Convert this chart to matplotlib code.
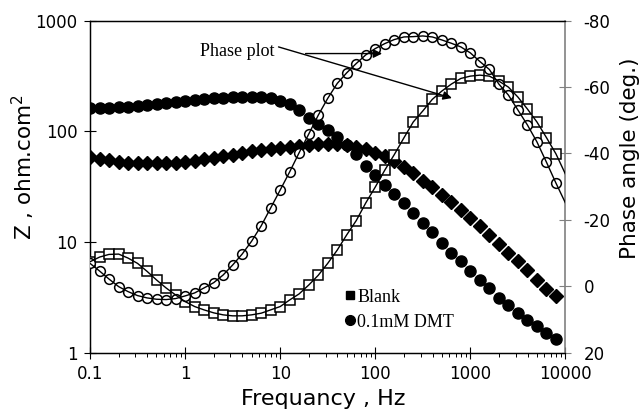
import matplotlib
matplotlib.use("Agg")
import matplotlib.pyplot as plt
from matplotlib.lines import Line2D
from matplotlib.ticker import FixedLocator, NullFormatter

plt.rcParams['axes.unicode_minus'] = False
plt.rcParams['font.family'] = ['DejaVu Sans']

freq = [0.1, 0.126, 0.158, 0.2, 0.251, 0.316, 0.398, 0.501, 0.631, 0.794,
        1, 1.26, 1.58, 2.0, 2.51, 3.16, 3.98, 5.01, 6.31, 7.94,
        10, 12.6, 15.8, 20, 25.1, 31.6, 39.8, 50.1, 63.1, 79.4,
        100, 126, 158, 200, 251, 316, 398, 501, 631, 794,
        1000, 1259, 1585, 1995, 2512, 3162, 3981, 5012, 6310, 7943]

blank_z = [59.0, 56.8, 55.1, 53.4, 52.3, 51.7, 51.4, 51.4, 51.7, 52.3,
           52.8, 54.5, 56.2, 58.0, 59.8, 61.7, 64.4, 66.4, 68.5, 69.9,
           71.4, 72.9, 73.6, 75.2, 76.8, 77.6, 77.6, 76.0, 72.9, 69.2,
           64.4, 59.8, 53.9, 48.1, 42.0, 35.6, 31.1, 26.6, 23.0, 19.5,
           16.5, 13.95, 11.57, 9.59, 7.95, 6.67, 5.58, 4.54, 3.80, 3.22]

dmt_z = [164, 164, 164, 165.8, 167.5, 169, 172.8, 176.4, 180.2, 184,
         187.8, 191.8, 195.8, 200, 202, 204, 206, 206, 204, 200,
         189.8, 176.4, 155.7, 133.3, 116.4, 102.8, 89.8, 75.2, 62.4, 48.6,
         40.3, 32.7, 27.4, 22.5, 18.3, 14.85, 12.2, 9.8, 7.95, 6.67,
         5.47, 4.54, 3.84, 3.15, 2.67, 2.28, 1.995, 1.74, 1.52, 1.33]

blank_phase = [-7.4, -8.8, -9.6, -9.7, -8.5, -6.9, -4.5, -1.9, 0.5, 2.6,
               4.6, 6.1, 7.1, 8.0, 8.6, 8.9, 8.9, 8.6, 8.1, 7.1,
               6.1, 4.1, 2.3, -0.4, -3.3, -6.9, -10.9, -15.5, -19.8, -25.1,
               -29.9, -35.0, -39.6, -44.7, -49.5, -52.8, -56.3, -58.8, -60.9, -62.6,
               -63.3, -63.6, -63.3, -61.8, -60.0, -57.0, -53.4, -49.5, -44.8, -39.9]

dmt_phase = [-6.9, -4.6, -2.2, 0.1, 1.6, 2.8, 3.5, 3.9, 4.0, 3.7,
             2.9, 2.0, 0.5, -1.1, -3.4, -6.4, -9.7, -13.6, -18.2, -23.6,
             -29.0, -34.5, -40.2, -45.9, -51.5, -56.6, -61.1, -64.3, -67.1, -69.7,
             -71.6, -73.1, -74.3, -75.1, -75.2, -75.4, -75.1, -74.2, -73.2, -72.1,
             -70.3, -67.7, -65.3, -60.9, -57.6, -53.1, -48.6, -43.5, -37.4, -31.1]

# fitted-line end values at the right edge (10000 Hz)
fit_end_freq = 10000
blank_phase_end = -33.8
dmt_phase_end = -25.1

x_ticks = [0.1, 1, 10, 100, 1000, 10000]
x_labels = ['0.1', '1', '10', '100', '1000', '10000']
z_ticks = [1, 10, 100, 1000]
z_labels = ['1', '10', '100', '1000']
ph_ticks = [-80, -60, -40, -20, 0, 20]
ph_labels = ['-80', '-60', '-40', '-20', '0', '20']

fig = plt.figure(figsize=(6.44, 4.17), dpi=100)
ax = fig.add_axes([0.1398, 0.1542, 0.878 - 0.1398, 0.9504 - 0.1542])
ax2 = ax.twinx()

serif = ['Liberation Serif', 'DejaVu Serif']

# impedance (left)
ax.plot(freq, blank_z, ls='none', marker='D', ms=7.5, mfc='black', mec='black', zorder=3)
ax.plot(freq, dmt_z, ls='none', marker='o', ms=8, mfc='black', mec='black', zorder=3)
ax.set_xscale('log')
ax.set_yscale('log')
ax.set_xlim(0.1, 10000)
ax.set_ylim(1, 1000)

# phase (right)
ax2.plot(freq, blank_phase, ls='none', marker='s', ms=7.2, mfc='white', mec='black', mew=1.1, zorder=3)
ax2.plot(freq, dmt_phase, ls='none', marker='o', ms=7, mfc='white', mec='black', mew=1.1, zorder=3)
ax2.plot(freq + [fit_end_freq], blank_phase + [blank_phase_end], color='black', lw=1.0, zorder=4)
ax2.plot(freq + [fit_end_freq], dmt_phase + [dmt_phase_end], color='black', lw=1.0, zorder=4)
ax2.set_ylim(20, -80)

# ticks
ax.xaxis.set_major_locator(FixedLocator(x_ticks))
ax.set_xticklabels(x_labels)
ax.xaxis.set_minor_formatter(NullFormatter())
ax.yaxis.set_major_locator(FixedLocator(z_ticks))
ax.set_yticklabels(z_labels)
ax.yaxis.set_minor_locator(FixedLocator([]))
ax.tick_params(axis='both', which='major', direction='inout', length=8, width=0.8, labelsize=12)
ax.tick_params(axis='y', which='major', pad=5)
ax.tick_params(axis='x', which='major', pad=5)
ax.tick_params(axis='x', which='minor', direction='out', length=3, width=0.7)
ax2.yaxis.set_major_locator(FixedLocator(ph_ticks))
ax2.set_yticklabels(ph_labels)
ax2.tick_params(axis='y', which='major', direction='inout', length=8, width=0.8, color='gray',
                labelsize=12, pad=9)

for s in ['left', 'bottom', 'top']:
    ax.spines[s].set_linewidth(0.9)
    ax2.spines[s].set_linewidth(0.9)
ax2.spines['right'].set_color('gray')
ax2.spines['right'].set_linewidth(1.2)
ax.spines['right'].set_visible(False)

ax.set_xlabel('Frequancy , Hz', fontsize=16)
ax.xaxis.set_label_coords(0.491, -0.108)
ax.set_ylabel('Z , ohm.com$^2$', fontsize=15.5)
ax.yaxis.set_label_coords(-0.112, 0.56)
ax2.set_ylabel('Phase angle (deg.)', fontsize=15.5)
ax2.yaxis.set_label_coords(1.114, 0.585)

# annotation
ax2.text(8.8, -70.7, 'Phase plot', fontsize=13, family=serif, ha='right', va='center')
ax2.annotate('', xy=(640, -56.7), xytext=(9.6, -72.1),
             arrowprops=dict(arrowstyle='-|>', color='black', lw=1.0, mutation_scale=13,
                             shrinkA=0, shrinkB=0))
ax2.annotate('', xy=(118, -70.1), xytext=(18.5, -70.1),
             arrowprops=dict(arrowstyle='-|>', color='black', lw=1.0, mutation_scale=13,
                             shrinkA=0, shrinkB=0))

# legend
handles = [Line2D([], [], ls='none', marker='s', ms=6, color='black'),
           Line2D([], [], ls='none', marker='o', ms=7, color='black')]
ax2.legend(handles, ['Blank', '0.1mM DMT'], loc='upper left', bbox_to_anchor=(0.52, 0.215),
           frameon=False, handlelength=0.6, handletextpad=0.1, labelspacing=0.45,
           prop={'family': serif, 'size': 13}, borderaxespad=0)

fig.savefig('out.png', dpi=100)
